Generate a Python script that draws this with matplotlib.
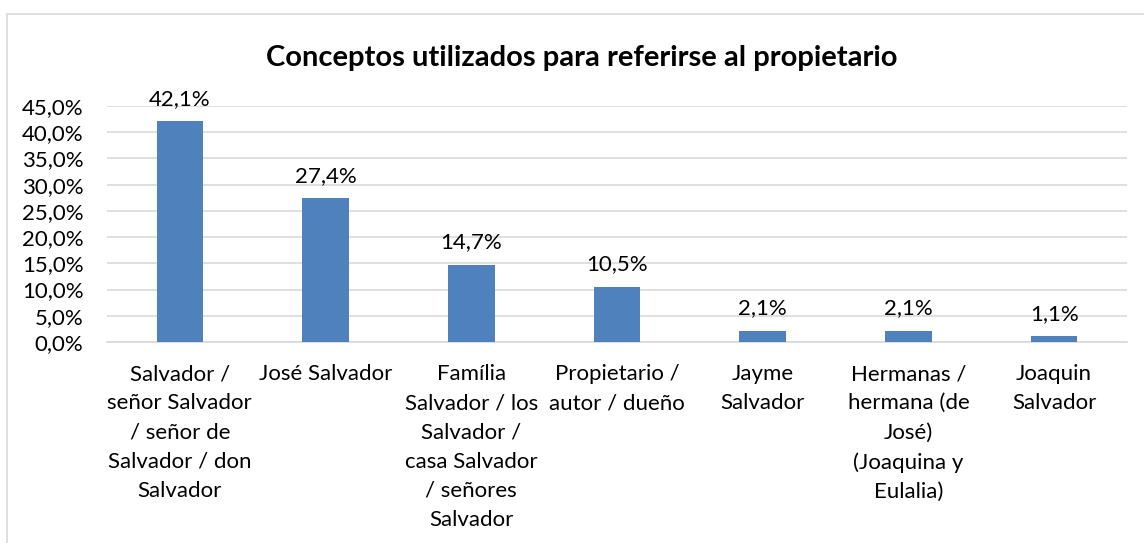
import matplotlib
matplotlib.use("Agg")
import matplotlib.pyplot as plt
from matplotlib.patches import Rectangle
from matplotlib.ticker import FuncFormatter, MultipleLocator

categories = [
    "Salvador /\nseñor Salvador\n/ señor de\nSalvador / don\nSalvador",
    "José Salvador",
    "Família\nSalvador / los\nSalvador /\ncasa Salvador\n/ señores\nSalvador",
    "Propietario /\nautor / dueño",
    "Jayme\nSalvador",
    "Hermanas /\nhermana (de\nJosé)\n(Joaquina y\nEulalia)",
    "Joaquin\nSalvador",
]
values = [42.1, 27.4, 14.7, 10.5, 2.1, 2.1, 1.1]
value_labels = ["42,1%", "27,4%", "14,7%", "10,5%", "2,1%", "2,1%", "1,1%"]
title = "Conceptos utilizados para referirse al propietario"

plt.rcParams['font.family'] = ['Lato', 'DejaVu Sans']

W, H = 1144, 543
fig = plt.figure(figsize=(W / 100, H / 100), dpi=100)
fig.patch.set_facecolor("white")

# chart border (light gray)
fig.patches.append(Rectangle((7 / W, -0.05), 1.2, (H - 14) / H + 0.05,
                             transform=fig.transFigure, fill=False,
                             edgecolor="#d9d9d9", linewidth=1.2))

left, right = 107 / W, 1127 / W
bottom, top = (H - 342) / H, (H - 106) / H
ax = fig.add_axes([left, bottom, right - left, top - bottom])

x = range(len(categories))
ax.bar(x, values, width=0.32, color="#4f81bd", zorder=3)
ax.set_xlim(-0.5, len(categories) - 0.5)
ax.set_ylim(0, 45)
ax.yaxis.set_major_locator(MultipleLocator(5))
ax.yaxis.set_major_formatter(FuncFormatter(lambda v, p: f"{v:.1f}%".replace(".", ",")))
ax.grid(axis="y", color="#d9d9d9", linewidth=1.2, zorder=0)
for s in ["top", "right", "left"]:
    ax.spines[s].set_visible(False)
ax.spines["bottom"].set_color("#d9d9d9")
ax.spines["bottom"].set_linewidth(1.2)
ax.tick_params(axis="both", length=0, labelsize=16, colors="black")
ax.tick_params(axis="y", pad=17)
ax.set_xticks(list(x))
ax.set_xticklabels(categories, linespacing=1.57)
ax.tick_params(axis="x", pad=16)

for i, (v, lab) in enumerate(zip(values, value_labels)):
    ax.annotate(lab, (i, v), xytext=(0, 9), textcoords="offset points",
                ha="center", va="bottom", fontsize=16)

fig.text(582 / W, (H - 58) / H, title, ha="center", va="center",
         fontsize=21, fontweight="bold")

fig.savefig("out.png", dpi=100)
